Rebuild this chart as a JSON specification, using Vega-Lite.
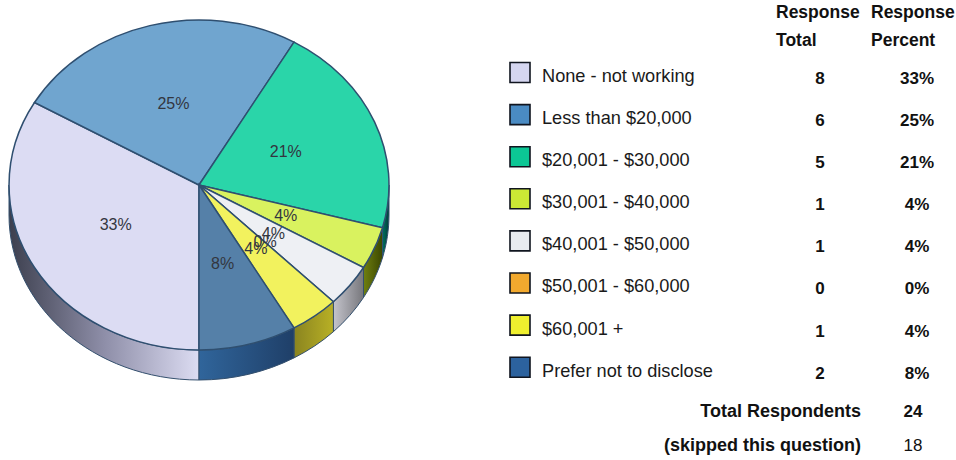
{
"$schema":"https://vega.github.io/schema/vega-lite/v6.json",
"width":956,"height":460,"padding":0,"autosize":{"type":"none"},
"background":"white",
"config":{"view":{"stroke":null},"text":{"font":"Liberation Sans"}},
"datasets":{"rows":[
{"row":1,"name":"None - not working","total":8,"percent":"33%"},
{"row":2,"name":"Less than $20,000","total":6,"percent":"25%"},
{"row":3,"name":"$20,001 - $30,000","total":5,"percent":"21%"},
{"row":4,"name":"$30,001 - $40,000","total":1,"percent":"4%"},
{"row":5,"name":"$40,001 - $50,000","total":1,"percent":"4%"},
{"row":6,"name":"$50,001 - $60,000","total":0,"percent":"0%"},
{"row":7,"name":"$60,001 +","total":1,"percent":"4%"},
{"row":8,"name":"Prefer not to disclose","total":2,"percent":"8%"}
]},
"data":{"name":"rows"},
"resolve":{"scale":{"y":"independent","shape":"independent","fill":"independent"}},
"layer":[
{"transform":[{"filter":"datum.row==1"}],
 "mark":{"type":"point","filled":true,"opacity":1,"stroke":"#34506e","strokeWidth":1,"size":4,"shape":"M0 165A190 165 0 0 1 -190 0L-190 30A190 165 0 0 0 0 195Z",
  "fill":{"gradient":"linear","x1":0,"x2":1,"y1":0,"y2":0,"stops":[{"offset":0,"color":"#3c3f4e"},{"offset":0.5,"color":"#8e8ea8"},{"offset":1,"color":"#dcdcf2"}]}},
 "encoding":{
  "x":{"datum":0,"type":"quantitative","scale":{"domain":[-199,757],"range":[0,956],"nice":false,"zero":false},"axis":null},
  "y":{"datum":0,"type":"quantitative","scale":{"domain":[-185,275],"range":[0,460],"nice":false,"zero":false},"axis":null}
 }},
{"transform":[{"filter":"datum.row==3"}],
 "mark":{"type":"point","filled":true,"opacity":1,"stroke":"#34506e","strokeWidth":1,"size":4,"shape":"M190 0A190 165 0 0 1 183.5 42.7L183.5 72.7A190 165 0 0 0 190 30Z",
  "fill":{"gradient":"linear","x1":0,"x2":1,"y1":0,"y2":0,"stops":[{"offset":0,"color":"#007060"},{"offset":1,"color":"#003d38"}]}},
 "encoding":{
  "x":{"datum":0,"type":"quantitative","axis":null},
  "y":{"datum":0,"type":"quantitative","scale":{"domain":[-185,275],"range":[0,460],"nice":false,"zero":false},"axis":null}
 }},
{"transform":[{"filter":"datum.row==4"}],
 "mark":{"type":"point","filled":true,"opacity":1,"stroke":"#34506e","strokeWidth":1,"size":4,"shape":"M183.5 42.7A190 165 0 0 1 164.5 82.5L164.5 112.5A190 165 0 0 0 183.5 72.7Z",
  "fill":{"gradient":"linear","x1":0,"x2":1,"y1":0,"y2":0,"stops":[{"offset":0,"color":"#6f7f10"},{"offset":1,"color":"#3b4700"}]}},
 "encoding":{
  "x":{"datum":0,"type":"quantitative","axis":null},
  "y":{"datum":0,"type":"quantitative","scale":{"domain":[-185,275],"range":[0,460],"nice":false,"zero":false},"axis":null}
 }},
{"transform":[{"filter":"datum.row==5"}],
 "mark":{"type":"point","filled":true,"opacity":1,"stroke":"#34506e","strokeWidth":1,"size":4,"shape":"M164.5 82.5A190 165 0 0 1 134.4 116.7L134.4 146.7A190 165 0 0 0 164.5 112.5Z",
  "fill":{"gradient":"linear","x1":0,"x2":1,"y1":0,"y2":0,"stops":[{"offset":0,"color":"#c4c4cc"},{"offset":1,"color":"#77777c"}]}},
 "encoding":{
  "x":{"datum":0,"type":"quantitative","axis":null},
  "y":{"datum":0,"type":"quantitative","scale":{"domain":[-185,275],"range":[0,460],"nice":false,"zero":false},"axis":null}
 }},
{"transform":[{"filter":"datum.row==7"}],
 "mark":{"type":"point","filled":true,"opacity":1,"stroke":"#34506e","strokeWidth":1,"size":4,"shape":"M134.4 116.7A190 165 0 0 1 95 142.9L95 172.9A190 165 0 0 0 134.4 146.7Z",
  "fill":{"gradient":"linear","x1":0,"x2":1,"y1":0,"y2":0,"stops":[{"offset":0,"color":"#8a8420"},{"offset":1,"color":"#b8b025"}]}},
 "encoding":{
  "x":{"datum":0,"type":"quantitative","axis":null},
  "y":{"datum":0,"type":"quantitative","scale":{"domain":[-185,275],"range":[0,460],"nice":false,"zero":false},"axis":null}
 }},
{"transform":[{"filter":"datum.row==8"}],
 "mark":{"type":"point","filled":true,"opacity":1,"stroke":"#34506e","strokeWidth":1,"size":4,"shape":"M95 142.9A190 165 0 0 1 0 165L0 195A190 165 0 0 0 95 172.9Z",
  "fill":{"gradient":"linear","x1":0,"x2":1,"y1":0,"y2":0,"stops":[{"offset":0,"color":"#30659b"},{"offset":1,"color":"#1f3f68"}]}},
 "encoding":{
  "x":{"datum":0,"type":"quantitative","axis":null},
  "y":{"datum":0,"type":"quantitative","scale":{"domain":[-185,275],"range":[0,460],"nice":false,"zero":false},"axis":null}
 }},
{"transform":[{"filter":"datum.total>0"}],
 "mark":{"type":"point","filled":true,"opacity":1,"stroke":"#2f4f70","strokeWidth":1.5,"size":4},
 "encoding":{
  "x":{"datum":0,"type":"quantitative","axis":null},
  "y":{"datum":0,"type":"quantitative","scale":{"domain":[-185,275],"range":[0,460],"nice":false,"zero":false},"axis":null},
  "shape":{"field":"name","type":"nominal","legend":null,"scale":{"domain":["None - not working","Less than $20,000","$20,001 - $30,000","$30,001 - $40,000","$40,001 - $50,000","$60,001 +","Prefer not to disclose"],"range":[
   "M0 0L0 165A190 165 0 0 1 -164.5 -82.5Z",
   "M0 0L-164.5 -82.5A190 165 0 0 1 95 -142.9Z",
   "M0 0L95 -142.9A190 165 0 0 1 183.5 42.7Z",
   "M0 0L183.5 42.7A190 165 0 0 1 164.5 82.5Z",
   "M0 0L164.5 82.5A190 165 0 0 1 134.4 116.7Z",
   "M0 0L134.4 116.7A190 165 0 0 1 95 142.9Z",
   "M0 0L95 142.9A190 165 0 0 1 0 165Z"]}},
  "fill":{"field":"name","type":"nominal","legend":null,"scale":{"domain":["None - not working","Less than $20,000","$20,001 - $30,000","$30,001 - $40,000","$40,001 - $50,000","$60,001 +","Prefer not to disclose"],"range":["#dcdcf3","#70a5cf","#2ad5a9","#d9f25f","#eef0f4","#f2f25e","#5580a8"]}}
 }},
{"transform":[
  {"joinaggregate":[{"op":"sum","field":"total","as":"n"}]},
  {"window":[{"op":"sum","field":"total","as":"cum"}],"sort":[{"field":"row","order":"ascending"}],"frame":[null,0]},
  {"calculate":"PI+(datum.cum-datum.total/2)/datum.n*2*PI","as":"mid"},
  {"calculate":"95*sin(datum.mid)","as":"lx"},
  {"calculate":"-82.5*cos(datum.mid)","as":"ly"}],
 "mark":{"type":"text","fontSize":16,"fill":"#33363f","align":"center","baseline":"middle","dx":-1,"dy":-1},
 "encoding":{
  "x":{"field":"lx","type":"quantitative","axis":null},
  "y":{"field":"ly","type":"quantitative","scale":{"domain":[-185,275],"range":[0,460],"nice":false,"zero":false},"axis":null},
  "text":{"field":"percent"}
 }},
{"mark":{"type":"point","shape":"square","filled":true,"opacity":1,"stroke":"#10151f","strokeWidth":1.6,"size":400,"yOffset":-3},
 "encoding":{
  "x":{"datum":321,"type":"quantitative","axis":null},
  "y":{"field":"row","type":"quantitative","scale":{"domain":[-0.793,10.133],"range":[0,460],"nice":false,"zero":false},"axis":null},
  "fill":{"field":"name","type":"nominal","legend":null,"scale":{"domain":["None - not working","Less than $20,000","$20,001 - $30,000","$30,001 - $40,000","$40,001 - $50,000","$50,001 - $60,000","$60,001 +","Prefer not to disclose"],"range":["#d5d6f0","#4a8bc3","#0cc795","#cbe835","#e8ebf0","#f2a92e","#efef2e","#2c629e"]}}
 }},
{"mark":{"type":"text","fontSize":18.2,"fill":"#1a1a1a","align":"left","baseline":"middle","dy":1.5},
 "encoding":{
  "x":{"datum":343,"type":"quantitative","axis":null},
  "y":{"field":"row","type":"quantitative","scale":{"domain":[-0.793,10.133],"range":[0,460],"nice":false,"zero":false},"axis":null},
  "text":{"field":"name"}
 }},
{"mark":{"type":"text","fontSize":17,"fontWeight":"bold","fill":"#111","align":"center","baseline":"middle","dy":3.5},
 "encoding":{
  "x":{"datum":621,"type":"quantitative","axis":null},
  "y":{"field":"row","type":"quantitative","scale":{"domain":[-0.793,10.133],"range":[0,460],"nice":false,"zero":false},"axis":null},
  "text":{"field":"total"}
 }},
{"mark":{"type":"text","fontSize":17,"fontWeight":"bold","fill":"#111","align":"center","baseline":"middle","dy":3.5},
 "encoding":{
  "x":{"datum":718,"type":"quantitative","axis":null},
  "y":{"field":"row","type":"quantitative","scale":{"domain":[-0.793,10.133],"range":[0,460],"nice":false,"zero":false},"axis":null},
  "text":{"field":"percent"}
 }},
{"data":{"values":[{"row":-0.508,"label":"Response"},{"row":0.157,"label":"Total"}]},
 "mark":{"type":"text","fontSize":17.5,"fontWeight":"bold","fill":"#111","align":"left","baseline":"middle","dy":1},
 "encoding":{
  "x":{"datum":577,"type":"quantitative","axis":null},
  "y":{"field":"row","type":"quantitative","scale":{"domain":[-0.793,10.133],"range":[0,460],"nice":false,"zero":false},"axis":null},
  "text":{"field":"label"}
 }},
{"data":{"values":[{"row":-0.508,"label":"Response"},{"row":0.157,"label":"Percent"}]},
 "mark":{"type":"text","fontSize":17.5,"fontWeight":"bold","fill":"#111","align":"left","baseline":"middle","dy":1},
 "encoding":{
  "x":{"datum":672,"type":"quantitative","axis":null},
  "y":{"field":"row","type":"quantitative","scale":{"domain":[-0.793,10.133],"range":[0,460],"nice":false,"zero":false},"axis":null},
  "text":{"field":"label"}
 }},
{"data":{"values":[{"row":8.97,"label":"Total Respondents"},{"row":9.78,"label":"(skipped this question)"}]},
 "mark":{"type":"text","fontSize":18,"fontWeight":"bold","fill":"#111","align":"right","baseline":"middle","dy":1},
 "encoding":{
  "x":{"datum":662,"type":"quantitative","axis":null},
  "y":{"field":"row","type":"quantitative","scale":{"domain":[-0.793,10.133],"range":[0,460],"nice":false,"zero":false},"axis":null},
  "text":{"field":"label"}
 }},
{"data":{"values":[{"row":8.97,"value":24}]},
 "mark":{"type":"text","fontSize":17,"fontWeight":"bold","fill":"#111","align":"center","baseline":"middle","dy":1},
 "encoding":{
  "x":{"datum":714,"type":"quantitative","axis":null},
  "y":{"field":"row","type":"quantitative","scale":{"domain":[-0.793,10.133],"range":[0,460],"nice":false,"zero":false},"axis":null},
  "text":{"field":"value"}
 }},
{"data":{"values":[{"row":9.78,"value":18}]},
 "mark":{"type":"text","fontSize":17,"fill":"#111","align":"center","baseline":"middle","dy":1},
 "encoding":{
  "x":{"datum":714,"type":"quantitative","axis":null},
  "y":{"field":"row","type":"quantitative","scale":{"domain":[-0.793,10.133],"range":[0,460],"nice":false,"zero":false},"axis":null},
  "text":{"field":"value"}
 }}
]}
